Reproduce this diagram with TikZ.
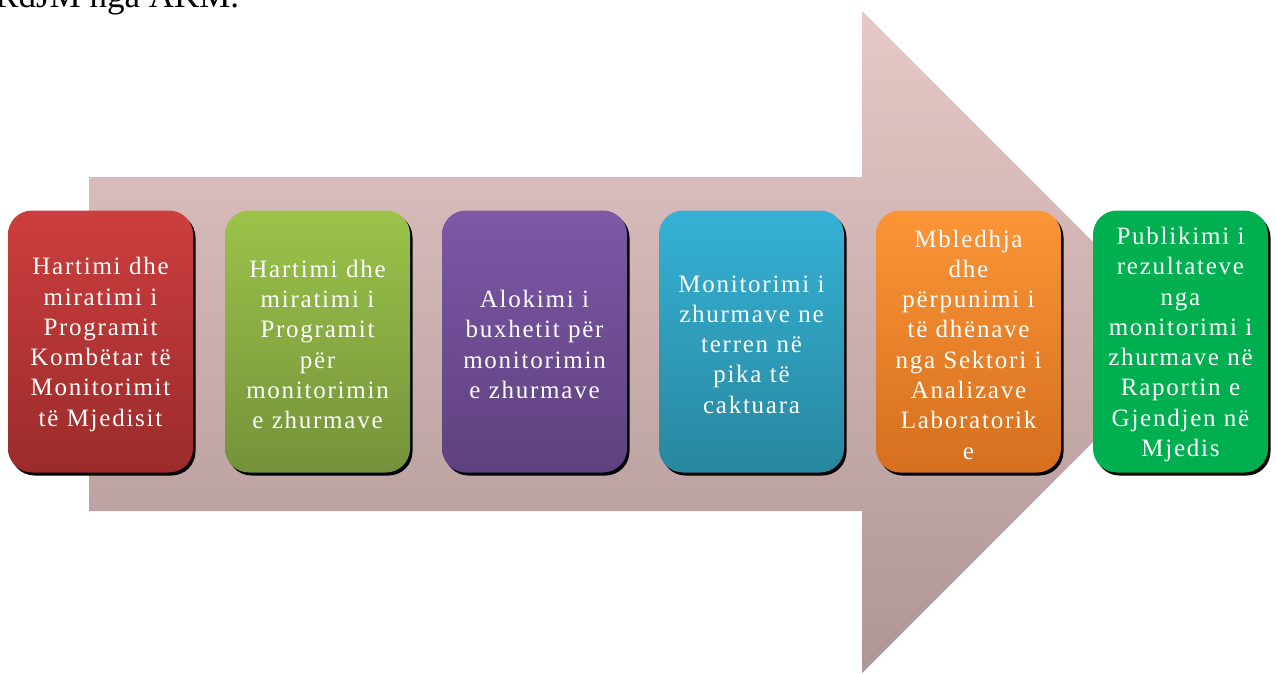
\documentclass[tikz,border=0pt]{standalone}
\usepackage{fontspec}
\setmainfont{Liberation Serif}
\newfontfamily\boxfont[LetterSpace=7,WordSpace=1.8]{Liberation Serif}
\usetikzlibrary{shadows}
\definecolor{arrtop}{HTML}{E6C8C6}
\definecolor{arrbot}{HTML}{AE9696}
\tikzset{
  stepbox/.style={rounded corners=24pt, minimum width=185pt, minimum height=262pt,
    inner sep=0pt,
    drop shadow={shadow xshift=2.5pt, shadow yshift=-3pt, opacity=1, fill=black}},
  steptext/.style={text width=182pt, align=center, inner sep=0pt, text=white,
    font=\boxfont\fontsize{25}{30.3}\selectfont},
}
\begin{document}
\begin{tikzpicture}[x=1pt,y=-1pt]
\useasboundingbox (0,0) rectangle (1276,673);
\clip (0,0) rectangle (1276,673);
\node[anchor=base west, font=\fontsize{35}{38}\selectfont, inner sep=0pt] (title) at (-5,7) {RdJM nga AKM.};
\shade[top color=arrtop, bottom color=arrbot]
  (89,177) -- (862,177) -- (862,11) -- (1193,342) -- (862,673) -- (862,511) -- (89,511) -- cycle;
\node[stepbox, top color={rgb,255:red,204;green,62;blue,62}, bottom color={rgb,255:red,155;green,43;blue,43}] (b1) at (100.5,341.5) {};
\node[steptext] (t1) at ([yshift=-3pt]b1.center)
  {Hartimi dhe\\miratimi i\\Programit\\Kombëtar të\\Monitorimit\\të Mjedisit};
\node[stepbox, top color={rgb,255:red,155;green,195;blue,74}, bottom color={rgb,255:red,116;green,146;blue,58}] (b2) at (317.5,341.5) {};
\node[steptext] (t2) at ([yshift=-3pt]b2.center)
  {Hartimi dhe\\miratimi i\\Programit\\për\\monitorimin\\e zhurmave};
\node[stepbox, top color={rgb,255:red,125;green,88;blue,166}, bottom color={rgb,255:red,94;green,65;blue,127}] (b3) at (534.5,341.5) {};
\node[steptext] (t3) at ([yshift=-3pt]b3.center)
  {Alokimi i\\buxhetit për\\monitorimin\\e zhurmave};
\node[stepbox, top color={rgb,255:red,53;green,177;blue,213}, bottom color={rgb,255:red,40;green,135;blue,159}] (b4) at (751.5,341.5) {};
\node[steptext] (t4) at ([yshift=-3pt]b4.center)
  {Monitorimi i\\zhurmave ne\\terren në\\pika të\\caktuara};
\node[stepbox, top color={rgb,255:red,251;green,149;blue,54}, bottom color={rgb,255:red,214;green,111;blue,30}] (b5) at (968.5,341.5) {};
\node[steptext] (t5) at ([yshift=-3pt]b5.center)
  {Mbledhja\\dhe\\përpunimi i\\të dhënave\\nga Sektori i\\Analizave\\Laboratorik\\e};
\node[stepbox, minimum width=175pt, fill={rgb,255:red,0;green,176;blue,80}] (b6) at (1180.5,341.5) {};
\node[steptext, text width=174pt] (t6) at ([yshift=-3pt]b6.center)
  {Publikimi i\\rezultateve\\nga\\monitorimi i\\zhurmave në\\Raportin e\\Gjendjen në\\Mjedis};
\end{tikzpicture}
\end{document}
